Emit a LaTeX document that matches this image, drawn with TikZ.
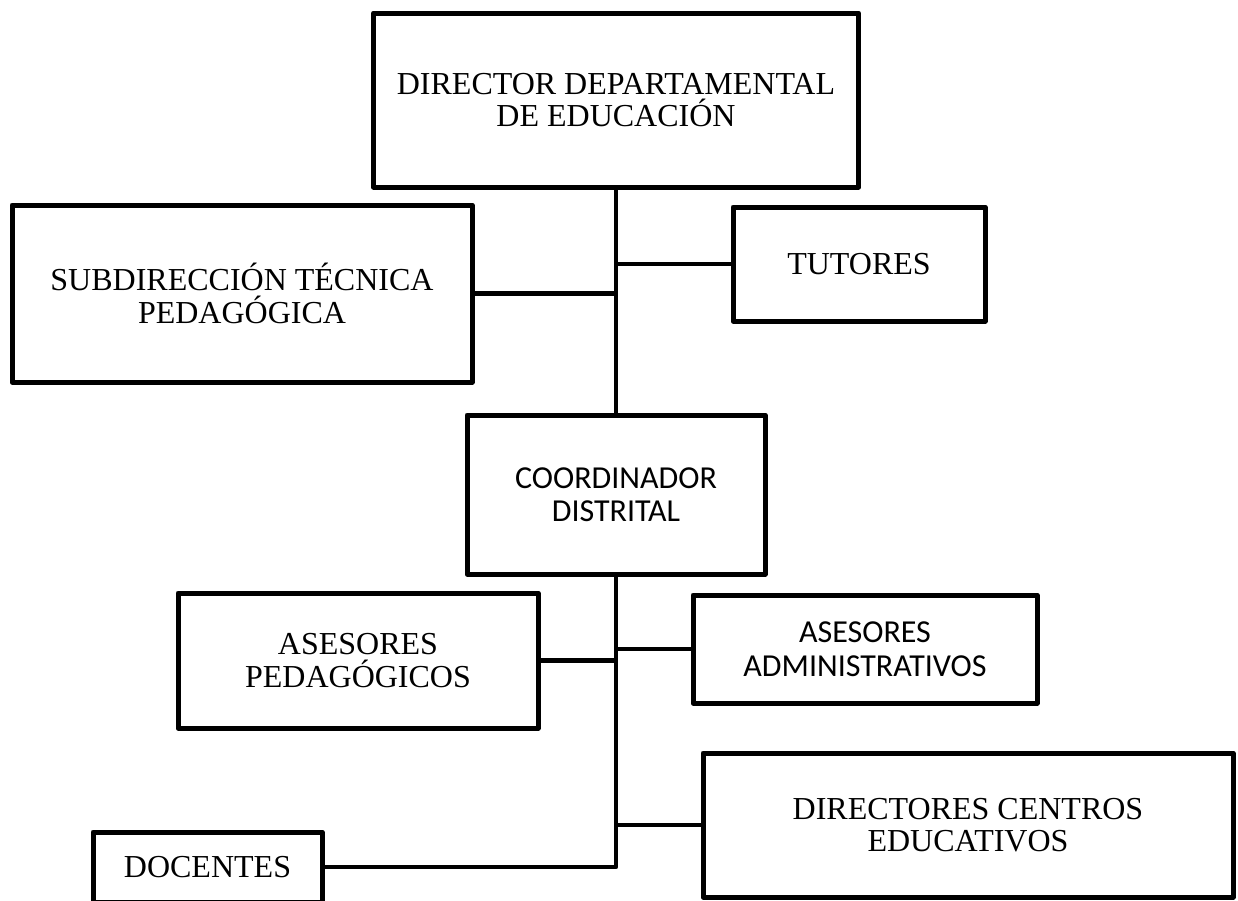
\documentclass[tikz,border=0pt]{standalone}
\usepackage{fontspec}
\setmainfont{Liberation Serif}
\newfontfamily\boxsans{Carlito}
\begin{document}
\begin{tikzpicture}[x=1pt,y=-1pt,
  unit/.style={draw=black,line width=5pt,fill=white,inner sep=0pt,
    align=center,font=\fontsize{32}{32.5}\selectfont,line join=round},
  sansunit/.style={unit,font=\boxsans\fontsize{32}{33.5}\selectfont},
  link/.style={line width=4.6pt,line join=round}]
\useasboundingbox (0,0) rectangle (1238,900);
\clip (0,0) rectangle (1238,900);

% boxes of the chart
\node[unit,minimum width=485pt,minimum height=174pt] (dir) at (616,100)
  {DIRECTOR DEPARTAMENTAL\\DE EDUCACIÓN};
\node[unit,minimum width=460pt,minimum height=177pt] (sub) at (242,293.5)
  {SUBDIRECCIÓN TÉCNICA\\PEDAGÓGICA};
\node[unit,minimum width=252pt,minimum height=114pt] (tut) at (859,264)
  {TUTORES};
\node[sansunit,minimum width=298pt,minimum height=159pt] (coord) at (616,494.5)
  {COORDINADOR\\DISTRITAL};
\node[unit,minimum width=360pt,minimum height=135pt] (aped) at (358,660.5)
  {ASESORES\\PEDAGÓGICOS};
\node[sansunit,minimum width=344pt,minimum height=108pt] (aadm) at (865,649)
  {ASESORES\\ADMINISTRATIVOS};
\node[unit,minimum width=530pt,minimum height=144pt] (dce) at (968,825)
  {DIRECTORES CENTROS\\EDUCATIVOS};
\node[unit,minimum width=229pt,minimum height=70pt] (doc) at (207.5,867)
  {DOCENTES};

% trunk and branches
\coordinate (end) at (doc.east -| coord.south);
\draw[link] (dir.south) -- (coord.north);
\draw[link] (sub.east) -- (sub.east -| dir.south);
\draw[link] (tut.west) -- (tut.west -| dir.south);
\draw[link] (coord.south) -- (end) -- (doc.east);
\draw[link] (aped.east) -- (aped.east -| coord.south);
\draw[link] (aadm.west) -- (aadm.west -| coord.south);
\draw[link] (dce.west) -- (dce.west -| coord.south);
\end{tikzpicture}
\end{document}
